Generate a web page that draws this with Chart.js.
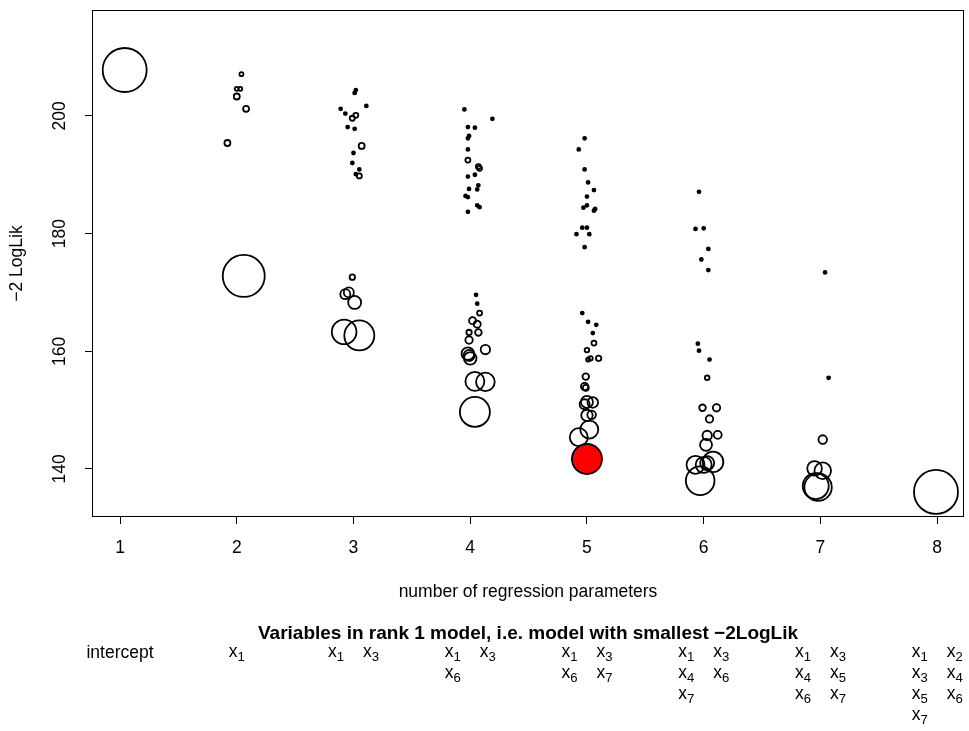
<!DOCTYPE html>
<html>
<head>
<meta charset="utf-8">
<script src="https://cdn.jsdelivr.net/npm/chart.js@4.4.1/dist/chart.umd.min.js"></script>
<style>
  html, body { margin: 0; padding: 0; background: #fff; }
  #wrap { width: 969px; height: 731px; }
</style>
</head>
<body>
<div id="wrap"><canvas id="bubble-chart" width="969" height="731"></canvas></div>
<script>
// one entry per fitted model: number of parameters (jittered), -2 log likelihood, bubble radius
const nParams = [
    1.04,
    2.04, 2.00, 2.03, 2.00, 2.08, 1.92, 2.06,
    3.02, 3.01, 2.89, 3.11, 2.93, 2.99, 3.02, 2.95, 3.01, 3.07, 3.00, 2.99, 3.05, 3.02, 3.05,
    2.99, 2.93, 2.96, 3.01, 2.92, 3.05,
    3.95, 4.19, 3.98, 4.04, 3.99, 3.98, 3.98, 3.98, 4.07, 4.08, 3.98, 4.04, 4.07, 4.06, 3.99, 3.96, 3.98, 4.06, 4.08, 3.98,
    4.05, 4.06, 4.08, 4.02, 4.06, 3.99, 4.07, 3.99, 4.13, 3.98, 4.00, 4.04, 4.13, 4.04, 3.99,
    4.98, 4.93, 4.98, 5.01, 5.06, 5.00, 4.97, 5.00, 5.06, 5.07, 4.96, 5.00, 4.91, 5.02, 4.98,
    4.96, 5.01, 5.08, 5.05, 5.06, 5.00, 5.01, 5.03, 5.10, 4.99, 4.98, 4.99, 5.00, 5.05, 5.00, 5.04, 5.02, 4.93, 4.98, 5.00,
    5.96, 5.93, 6.00, 6.04, 5.98, 6.04, 5.95, 5.96, 6.05, 6.03, 5.99, 6.11, 6.05, 6.03, 6.12, 6.02, 5.93, 6.08, 6.00, 5.97, 6.03,
    7.04, 7.07, 7.02, 6.95, 7.02, 6.98, 6.96,
    7.99
];
const negLogLik = [
    207.8,
    207.1, 204.6, 204.6, 203.3, 201.2, 195.4, 172.8,
    204.4, 203.9, 201.2, 201.7, 200.4, 199.6, 200.1, 198.1, 197.8, 194.9, 193.7, 192.0, 190.9, 190.1, 189.8,
    172.6, 169.7, 170.0, 168.3, 163.3, 162.7,
    201.1, 199.5, 198.1, 198.0, 196.6, 196.2, 194.3, 192.5, 191.4, 191.1, 189.7, 190.0, 188.2, 187.5, 187.6, 186.4, 186.2, 184.8, 184.5, 183.7,
    169.6, 168.1, 166.5, 165.2, 164.6, 163.2, 163.2, 161.9, 160.3, 159.6, 158.8, 154.9, 154.8, 149.7, 159.3,
    196.2, 194.3, 190.9, 188.7, 187.4, 186.3, 184.4, 184.8, 183.9, 184.2, 181.0, 181.0, 179.9, 179.9, 177.7,
    166.5, 165.0, 164.5, 163.1, 161.4, 160.2, 158.6, 158.8, 158.8, 155.7, 154.0, 153.8, 151.4, 151.3, 149.1, 149.2, 146.7, 145.4, 151.0, 141.7,
    187.1, 180.8, 180.9, 177.4, 175.6, 173.8, 161.3, 160.1, 158.6, 155.5, 150.4, 150.4, 148.5, 145.7, 145.8, 144.1, 140.7, 141.2, 140.7, 138.0, 141.0,
    173.4, 155.5, 145.0, 140.1, 139.7, 136.9, 137.1,
    136.1
];
const bubbleSize = [
    22,
    2, 2, 2, 3, 3, 3, 21,
    1.5, 1.5, 1.5, 1.5, 1.5, 2.5, 2.5, 1.5, 1.5, 3, 1.5, 1.5, 1.5, 1.5, 2.5,
    2.7, 5, 5, 6.5, 12.3, 15,
    1.5, 1.5, 1.5, 1.5, 1.5, 1.5, 1.5, 2.5, 2.5, 2.5, 1.5, 1.5, 1.5, 1.5, 1.5, 1.5, 1.5, 1.5, 1.5, 1.5,
    1.5, 1.5, 2.5, 3.5, 3.5, 2.7, 3.3, 3.7, 4.7, 6.3, 6.3, 9.5, 9.3, 15, 5.5,
    1.5, 1.5, 1.5, 1.5, 1.5, 1.5, 1.5, 1.5, 1.5, 1.5, 1.5, 1.5, 1.5, 1.5, 1.5,
    1.5, 1.5, 1.5, 1.5, 2.5, 2.3, 2, 2.3, 2.7, 3.3, 3.7, 3, 6, 5.3, 5.7, 4.3, 9, 9, 5, 15,
    1.5, 1.5, 1.5, 1.5, 1.5, 1.5, 1.5, 1.5, 1.5, 2.3, 3.3, 3.7, 3.7, 4.7, 4, 6, 9, 10.3, 8, 14.3, 7,
    1.5, 1.5, 4.3, 7.3, 8.3, 13.7, 13,
    22
];

const xTicks = [1, 2, 3, 4, 5, 6, 7, 8];
const yTicks = [140, 160, 180, 200];

// variables of the best model for each model size (index 0 is the intercept-only model)
const rankOneVars = [
    [],
    [1],
    [1, 3],
    [1, 3, 6],
    [1, 3, 6, 7],
    [1, 3, 4, 6, 7],
    [1, 3, 4, 5, 6, 7],
    [1, 2, 3, 4, 5, 6, 7]
];
const chosenSize = 5;

const FONT = '"Liberation Sans", Arial, Helvetica, sans-serif';
const FS = 17.5;
const FS_TITLE = 19;

// chosen model = smallest -2LogLik among the models with chosenSize parameters
let chosen = -1;
nParams.forEach((p, i) => {
    if (Math.round(p) === chosenSize && (chosen < 0 || negLogLik[i] < negLogLik[chosen])) chosen = i;
});

const points = nParams.map((p, i) => ({ x: p, y: negLogLik[i], r: bubbleSize[i] }));

function drawSubVar(ctx, idx, cx, baseY) {
    ctx.font = `${FS}px ${FONT}`;
    const w1 = ctx.measureText('x').width;
    ctx.font = `${FS * 0.75}px ${FONT}`;
    const w2 = ctx.measureText(String(idx)).width;
    const left = cx - (w1 + w2) / 2;
    ctx.textAlign = 'left';
    ctx.textBaseline = 'alphabetic';
    ctx.font = `${FS}px ${FONT}`;
    ctx.fillText('x', left, baseY);
    ctx.font = `${FS * 0.75}px ${FONT}`;
    ctx.fillText(String(idx), left + w1, baseY + 4);
}

const rFrame = {
    id: 'rFrame',
    afterDraw(chart) {
        const ctx = chart.ctx;
        const a = chart.chartArea;
        const xs = chart.scales.x, ys = chart.scales.y;
        ctx.save();
        ctx.strokeStyle = '#000';
        ctx.lineWidth = 1;
        ctx.strokeRect(a.left + 0.5, a.top + 0.5, a.right - a.left - 1, a.bottom - a.top - 1);

        ctx.fillStyle = '#000';
        ctx.font = `${FS}px ${FONT}`;
        ctx.textAlign = 'center';
        ctx.textBaseline = 'middle';
        // rotated y tick labels
        yTicks.forEach(v => {
            ctx.save();
            ctx.translate(60, ys.getPixelForValue(v));
            ctx.rotate(-Math.PI / 2);
            ctx.fillText(String(v), 0, 0);
            ctx.restore();
        });
        // axis titles
        ctx.save();
        ctx.translate(17, (a.top + a.bottom) / 2);
        ctx.rotate(-Math.PI / 2);
        ctx.fillText('\u22122 LogLik', 0, 0);
        ctx.restore();
        const midX = (a.left + a.right) / 2;
        ctx.fillText('number of regression parameters', midX, 592);

        // table of rank 1 models
        ctx.font = `bold ${FS_TITLE}px ${FONT}`;
        ctx.fillText('Variables in rank 1 model, i.e. model with smallest \u22122LogLik', midX, 634);
        rankOneVars.forEach((vars, g) => {
            const tx = xs.getPixelForValue(xTicks[g]);
            if (vars.length === 0) {
                ctx.font = `${FS}px ${FONT}`;
                ctx.textAlign = 'center';
                ctx.textBaseline = 'alphabetic';
                ctx.fillText('intercept', tx, 658);
                return;
            }
            vars.forEach((v, k) => {
                const row = Math.floor(k / 2), col = k % 2;
                const cx = vars.length === 1 ? tx : tx + (col === 0 ? -17.5 : 17.5);
                drawSubVar(ctx, v, cx, 657 + row * 21);
            });
        });
        ctx.restore();
    }
};

new Chart(document.getElementById('bubble-chart').getContext('2d'), {
    type: 'bubble',
    data: {
        datasets: [{
            data: points,
            borderColor: '#000',
            borderWidth: 1.8,
            hoverRadius: 0,
            backgroundColor: (c) => {
                if (c.dataIndex === chosen) return '#ff0000';
                const raw = c.raw;
                return raw && raw.r < 2 ? '#000' : 'rgba(0,0,0,0)';
            },
            hoverBackgroundColor: (c) => (c.dataIndex === chosen ? '#ff0000' : 'rgba(0,0,0,0)')
        }]
    },
    options: {
        responsive: false,
        animation: false,
        events: [],
        layout: { autoPadding: false, padding: { top: 10, right: 5, left: 0, bottom: 0 } },
        plugins: { legend: { display: false }, tooltip: { enabled: false } },
        scales: {
            x: {
                type: 'linear',
                min: 0.76,
                max: 8.23,
                afterBuildTicks: (s) => { s.ticks = xTicks.map(v => ({ value: v })); },
                afterFit: (s) => { s.height = 214; },
                grid: { drawOnChartArea: false, drawTicks: true, tickLength: 7, color: '#000' },
                border: { display: false },
                ticks: { color: '#000', font: { family: FONT, size: FS }, padding: 14, maxRotation: 0 }
            },
            y: {
                type: 'linear',
                min: 131.84,
                max: 218.0,
                afterBuildTicks: (s) => { s.ticks = yTicks.map(v => ({ value: v })); },
                afterFit: (s) => { s.width = 92; },
                grid: { drawOnChartArea: false, drawTicks: true, tickLength: 7, color: '#000' },
                border: { display: false },
                ticks: { display: false }
            }
        }
    },
    plugins: [rFrame]
});
</script>
</body>
</html>
